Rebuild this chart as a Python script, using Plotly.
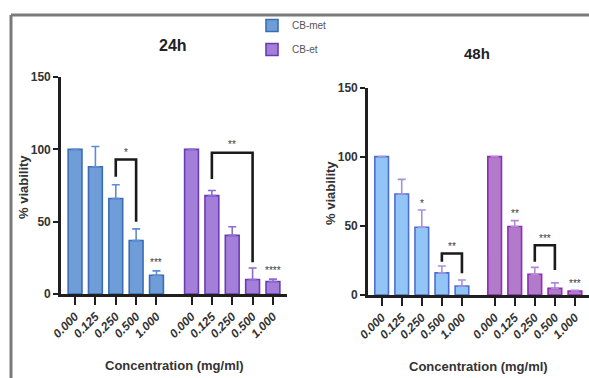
import plotly.graph_objects as go

# ---------------- data ----------------
concentrations = ["0.000", "0.125", "0.250", "0.500", "1.000"]
series_names = ["CB-met", "CB-et"]

met_24 = [100, 88, 66, 37, 13]
met_24_err = [0, 14, 9.5, 8, 3]
et_24 = [100, 68, 40.5, 10, 8.6]
et_24_err = [0, 3.5, 6, 8, 1.7]

met_48 = [100, 73, 49, 16, 6.5]
met_48_err = [0, 10.6, 12.4, 5, 4.3]
et_48 = [100, 49.5, 15, 4.8, 2.9]
et_48_err = [0, 4.3, 5, 4, 0.5]

# significance brackets: (series, i_left, i_right, top, left_bottom, right_bottom, label, label_y)
brackets_24 = [("met", 2, 3, 93, 81, 50, "*", 98),
               ("et", 1, 3, 97.6, 79.5, 22, "**", 103)]
brackets_48 = [("met", 3, 4, 30, 24, 15.7, "**", 35),
               ("et", 2, 3, 36, 24, 18, "***", 41)]
# single stars: (series, index, label, y)
stars_24 = [("met", 4, "***", 22), ("et", 4, "****", 16)]
stars_48 = [("met", 2, "*", 66), ("et", 1, "**", 59), ("et", 4, "***", 8)]

titles = ["24h", "48h"]
x_title = "Concentration (mg/ml)"
y_title = "% viability"
y_ticks = [0, 50, 100, 150]

# ---------------- style ----------------
FONT = "Liberation Sans Narrow, Liberation Sans, Arial"
styles = {
    "24": {"met": ("#6f9dd8", "#3b6db6", "#5b8cd4"), "et": ("#a37fd9", "#6a3eb2", "#8c6ad2")},
    "48": {"met": ("#92c4f6", "#4d6fd2", "#a592df"), "et": ("#b27bc9", "#8f2cb6", "#b488d8")},
}
gaps = {"24": 0.72, "48": 0.63}
x_axes = {"24": ("x", "y"), "48": ("x2", "y2")}

fig = go.Figure()

def positions(panel, series):
    off = 0 if series == "met" else len(concentrations) + gaps[panel]
    return [i + off for i in range(len(concentrations))]

panels = [("24", met_24, met_24_err, et_24, et_24_err, brackets_24, stars_24),
          ("48", met_48, met_48_err, et_48, et_48_err, brackets_48, stars_48)]

shapes = []
annotations = []
star_font = dict(size=10, color="#3a3a3a", family=FONT)
for panel, mv, me, ev, ee, brs, sts in panels:
    xa, ya = x_axes[panel]
    for key, vals, errs, name in [("met", mv, me, series_names[0]), ("et", ev, ee, series_names[1])]:
        fill, edge, errc = styles[panel][key]
        fig.add_trace(go.Bar(
            x=positions(panel, key), y=vals, name=name,
            marker=dict(color=fill, line=dict(color=edge, width=1.6)),
            width=0.68,
            error_y=dict(type="data", array=errs, arrayminus=[0] * len(errs), symmetric=False,
                         color=errc, thickness=1.6, width=4),
            xaxis=xa, yaxis=ya, showlegend=(panel == "24"), legendgroup=key,
            hoverinfo="skip",
        ))
    for key, il, ir, top, lb, rb, lab, ly in brs:
        p = positions(panel, key)
        shapes.append(dict(type="path", xref=xa, yref=ya,
                           path=f"M {p[il]},{lb} L {p[il]},{top} L {p[ir]},{top} L {p[ir]},{rb}",
                           line=dict(color="#1a1a1a", width=2.6)))
        annotations.append(dict(x=(p[il] + p[ir]) / 2, y=ly, xref=xa, yref=ya, text=lab,
                                showarrow=False, font=star_font, xanchor="center", yanchor="middle"))
    for key, i, lab, ly in sts:
        p = positions(panel, key)
        annotations.append(dict(x=p[i], y=ly, xref=xa, yref=ya, text=lab, showarrow=False,
                                font=star_font, xanchor="center", yanchor="middle"))

tickvals_24 = positions("24", "met") + positions("24", "et")
tickvals_48 = positions("48", "met") + positions("48", "et")
ticktext = [f"<b><i>{c}</i></b>" for c in concentrations] * 2

xcommon = dict(showline=True, linecolor="#1f1f1f", linewidth=2.6, ticks="outside", ticklen=8,
               tickwidth=2, tickcolor="#1f1f1f", tickangle=-45, showgrid=False, zeroline=False,
               automargin=False,
               tickfont=dict(size=12, color="#333", family=FONT))
ycommon = dict(showline=True, linecolor="#1f1f1f", linewidth=2.6, ticks="outside", ticklen=5,
               tickwidth=2, tickcolor="#1f1f1f", showgrid=False, zeroline=False, range=[0, 150],
               automargin=False,
               tickvals=y_ticks, ticktext=[f"<b>{t}</b>" for t in y_ticks],
               tickfont=dict(size=12, color="#333", family=FONT))

W, H = 589, 378
def px(x, y):
    return dict(x=x / W, y=1 - y / H, xref="paper", yref="paper",
                xanchor="center", yanchor="middle", showarrow=False)

text_font = dict(size=13, color="#333", family=FONT)
label_annots = [
    dict(px(173, 45), text=f"<b>{titles[0]}</b>", font=dict(size=16, color="#222", family=FONT)),
    dict(px(477, 53), text=f"<b>{titles[1]}</b>", font=dict(size=15, color="#222", family=FONT)),
    dict(px(175, 365), text=f"<b>{x_title}</b>", font=text_font),
    dict(px(478, 366), text=f"<b>{x_title}</b>", font=text_font),
    dict(px(24, 187), text=f"<b>{y_title}</b>", font=text_font, textangle=-90),
    dict(px(330, 193), text=f"<b>{y_title}</b>", font=text_font, textangle=-90),
]

fig.update_layout(
    width=W, height=H, margin=dict(l=0, r=0, t=0, b=0, autoexpand=False),
    paper_bgcolor="white", plot_bgcolor="white", barmode="overlay",
    xaxis=dict(xcommon, domain=[61 / W, 287 / W], range=[-0.69, 9.72 + 0.69],
               tickvals=tickvals_24, ticktext=ticktext, anchor="y"),
    yaxis=dict(ycommon, domain=[84 / H, 301 / H], anchor="x"),
    xaxis2=dict(xcommon, domain=[368 / W, 1.0], range=[-0.68, 9.63 + 0.7],
                tickvals=tickvals_48, ticktext=ticktext, anchor="y2"),
    yaxis2=dict(ycommon, domain=[83 / H, 290.5 / H], anchor="x2"),
    legend=dict(x=252 / W, y=1 - 11 / H, xanchor="left", yanchor="top",
                font=dict(size=10, color="#555", family=FONT), bgcolor="rgba(0,0,0,0)",
                tracegroupgap=5),
    shapes=shapes + [
        dict(type="line", xref="paper", yref="paper", x0=11 / W, x1=1, y0=1 - 15 / H, y1=1 - 15 / H,
             line=dict(color="#7a7a7a", width=3)),
        dict(type="line", xref="paper", yref="paper", x0=11 / W, x1=11 / W, y0=0, y1=1 - 15 / H,
             line=dict(color="#7a7a7a", width=3)),
    ],
    annotations=annotations + label_annots,
)

fig.write_html("out.html", config={"displayModeBar": False},
               post_script="document.body.style.margin='0';")
